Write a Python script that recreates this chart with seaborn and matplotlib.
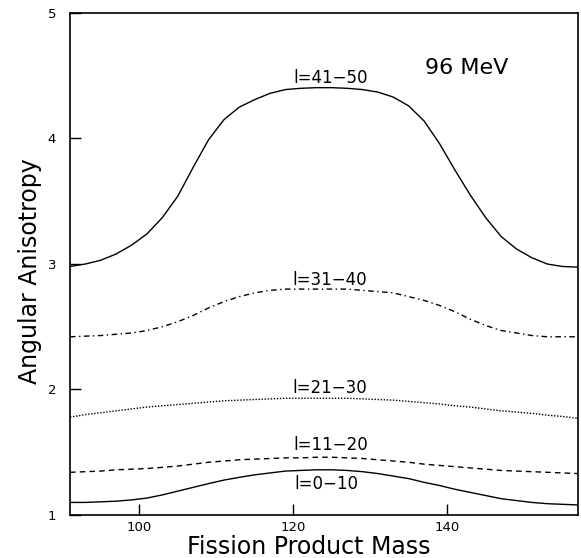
import matplotlib
matplotlib.use("Agg")
import matplotlib.pyplot as plt
import seaborn as sns
import pandas as pd

mass = [91, 93, 95, 97, 99, 101, 103, 105, 107, 109, 111, 113, 115, 117, 119, 121, 123,
        125, 127, 129, 131, 133, 135, 137, 139, 141, 143, 145, 147, 149, 151, 153, 155, 157]

l41_50 = [2.98, 3.00, 3.03, 3.08, 3.15, 3.24, 3.37, 3.54, 3.77, 3.99, 4.15, 4.25, 4.31,
          4.36, 4.39, 4.40, 4.405, 4.405, 4.40, 4.39, 4.37, 4.33, 4.26, 4.14, 3.96, 3.75,
          3.55, 3.37, 3.22, 3.12, 3.05, 3.00, 2.98, 2.975]
l31_40 = [2.42, 2.425, 2.43, 2.44, 2.45, 2.47, 2.50, 2.54, 2.59, 2.65, 2.70, 2.74, 2.77,
          2.79, 2.80, 2.80, 2.80, 2.80, 2.80, 2.79, 2.78, 2.77, 2.74, 2.71, 2.67, 2.62,
          2.56, 2.51, 2.47, 2.45, 2.43, 2.42, 2.42, 2.42]
l21_30 = [1.78, 1.80, 1.815, 1.83, 1.845, 1.86, 1.87, 1.88, 1.89, 1.90, 1.91, 1.915, 1.92,
          1.925, 1.93, 1.93, 1.93, 1.93, 1.93, 1.925, 1.92, 1.915, 1.905, 1.895, 1.885,
          1.87, 1.86, 1.845, 1.83, 1.82, 1.81, 1.795, 1.785, 1.77]
l11_20 = [1.34, 1.345, 1.35, 1.36, 1.365, 1.37, 1.38, 1.39, 1.405, 1.42, 1.43, 1.44, 1.445,
          1.45, 1.455, 1.455, 1.46, 1.46, 1.455, 1.45, 1.44, 1.43, 1.42, 1.405, 1.395,
          1.385, 1.375, 1.365, 1.355, 1.35, 1.345, 1.34, 1.335, 1.33]
l0_10 = [1.10, 1.10, 1.105, 1.11, 1.12, 1.135, 1.16, 1.19, 1.22, 1.25, 1.278, 1.30, 1.32,
         1.335, 1.35, 1.355, 1.36, 1.36, 1.355, 1.345, 1.33, 1.31, 1.29, 1.26, 1.235,
         1.205, 1.18, 1.155, 1.13, 1.115, 1.10, 1.09, 1.085, 1.08]

series_names = ["l=41\u221250", "l=31\u221240", "l=21\u221230", "l=11\u221220", "l=0\u221210"]
series_values = [l41_50, l31_40, l21_30, l11_20, l0_10]
label_pos = [(124.8, 4.445), (124.8, 2.83), (124.8, 1.975), (124.9, 1.52), (124.3, 1.21)]
energy_label = "96 MeV"
x_ticks = [100, 120, 140]
y_ticks = [1, 2, 3, 4, 5]

sns.set_theme(style="ticks")
plt.rcParams['font.family'] = ['DejaVu Sans']

fig = plt.figure(figsize=(5.81, 5.58), dpi=100)
ax = fig.add_axes([0.1205, 0.0771, 0.8743, 0.8996])

styles = ["-", (0, (4, 2.5, 1, 2.5)), (0, (1, 1.2)), (0, (4, 3)), "-"]

for name, vals, ls in zip(series_names, series_values, styles):
    df = pd.DataFrame({"mass": mass, "A": vals})
    sns.lineplot(data=df, x="mass", y="A", ax=ax, color="black",
                 linewidth=1.0, linestyle=ls, estimator=None, sort=False)

for name, (px, py) in zip(series_names, label_pos):
    ax.text(px, py, name, ha="center", va="baseline", fontsize=12, color="black")

ax.text(142.6, 4.56, energy_label, ha="center", va="center", fontsize=16, color="black")

ax.set_xlim(91, 157)
ax.set_ylim(1, 5)
ax.set_xticks(x_ticks)
ax.set_yticks(y_ticks)
ax.tick_params(direction="in", length=8, width=1, labelsize=9.5, colors="black")
ax.tick_params(axis="y", pad=10)
ax.tick_params(axis="x", pad=4)
for sp in ax.spines.values():
    sp.set_visible(True)
    sp.set_linewidth(1.2)
    sp.set_color("black")

ax.set_xlabel("Fission Product Mass", fontsize=17, color="black")
ax.set_ylabel("Angular Anisotropy", fontsize=17, color="black")
ax.xaxis.set_label_coords(0.47, -0.039)
ax.yaxis.set_label_coords(-0.055, 0.486)

fig.savefig("out.png", dpi=100)
